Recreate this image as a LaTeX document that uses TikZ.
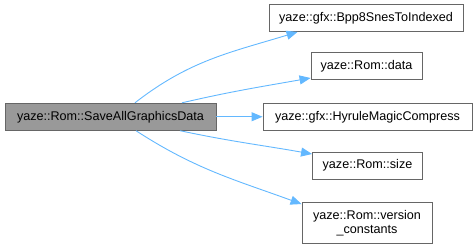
\documentclass[tikz,border=0pt]{standalone}
\usepackage{fontspec}
\setmainfont{Liberation Sans}
\usetikzlibrary{arrows.meta}
\definecolor{edgeblue}{HTML}{63B8FF}
\definecolor{boxline}{HTML}{666666}
\definecolor{boxfill}{HTML}{999999}
\begin{document}
\begin{tikzpicture}[x=1pt,y=1pt,
  fn/.style={draw=boxline, line width=0.9pt, fill=white, minimum height=27pt,
    inner sep=0pt, font=\fontsize{12.6}{14.5}\selectfont, text=black, align=center},
  cur/.style={fn, fill=boxfill},
  call/.style={draw=edgeblue, line width=0.9pt,
    -{Stealth[length=11pt,width=9pt,inset=0pt]}}]
\useasboundingbox (0,0) rectangle (476,249);

% caller
\node[cur, minimum width=211pt] (main) at (110.5,132.25) {yaze::Rom::SaveAllGraphicsData};

% callees
\node[fn, minimum width=194pt] (bpp)  at (366,231)    {yaze::gfx::Bpp8SnesToIndexed};
\node[fn, minimum width=111pt] (data) at (366.5,183)  {yaze::Rom::data};
\node[fn, minimum width=209pt] (hyr)  at (367.5,132.25) {yaze::gfx::HyruleMagicCompress};
\node[fn, minimum width=110pt] (size) at (367.5,83.5) {yaze::Rom::size};
\node[fn, minimum width=130pt, minimum height=41pt] (vc) at (367,26)
  {yaze::Rom::version\\\_constants};

% calls
\draw[call] ([xshift=24.5pt]main.north) to[out=38,in=197] ([xshift=29pt]bpp.south west);
\draw[call] ([xshift=71.5pt]main.north) to[out=13,in=190] ([yshift=-12pt]data.west);
\draw[call] (main.east) -- (hyr.west);
\draw[call] ([xshift=69.5pt]main.south) to[out=-12,in=170] ([yshift=11.5pt]size.west);
\draw[call] ([xshift=25.5pt]main.south) to[out=-33,in=160] ([yshift=-2pt]vc.north west);
\end{tikzpicture}
\end{document}
